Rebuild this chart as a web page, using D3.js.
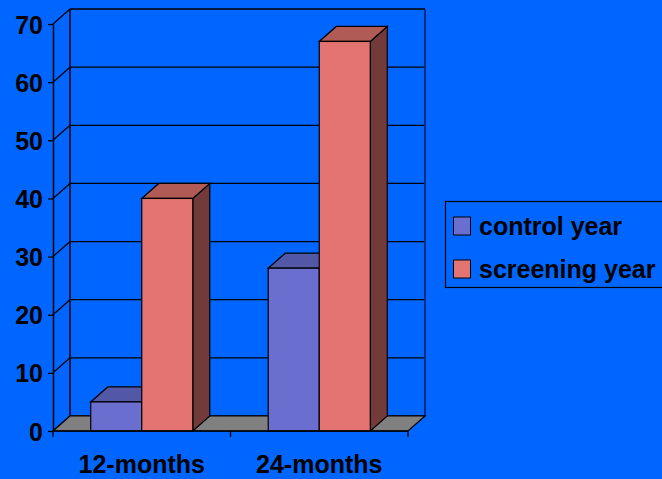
<!DOCTYPE html>
<html lang="en">
<head>
    <meta charset="UTF-8">
    <script src="https://cdn.jsdelivr.net/npm/d3@7"></script>
    <title>control vs screening year</title>
    <style>
        body {
            margin: 0;
            background-color: #0066ff;
            overflow: hidden;
        }
        text {
            font-family: "Liberation Sans", Arial, sans-serif;
            font-weight: bold;
            font-size: 25px;
            fill: #000;
        }
    </style>
</head>
<body>
    <script>
        // chart data
        const categories = ["12-months", "24-months"];
        const seriesNames = ["control year", "screening year"];
        const controlValues = [5, 28];
        const screeningValues = [40, 67];
        const yTicks = [0, 10, 20, 30, 40, 50, 60, 70];

        const W = 662, H = 479;
        // 3d depth offset of the back wall
        const dx = 17, dy = 15;

        const front = {left: 53, right: 408, top: 24, bottom: 431};

        const colors = {
            "control year": {front: "#6a6ecf", top: "#5257a6", side: "#3c3f7a"},
            "screening year": {front: "#e37472", top: "#b05b55", side: "#733a3a"}
        };

        const svg = d3.select("body").append("svg")
            .attr("width", W)
            .attr("height", H);

        const y = d3.scaleLinear()
            .domain([0, 70])
            .range([front.bottom, front.top]);

        const x0 = d3.scaleBand()
            .domain(categories)
            .range([front.left, front.right])
            .paddingInner(0.425)
            .paddingOuter(0.2125);

        const x1 = d3.scaleBand()
            .domain(seriesNames)
            .range([0, x0.bandwidth()]);

        const step = x0.step();

        // walls: gridlines on the back and the left side
        const walls = svg.append("g");
        yTicks.forEach(t => {
            walls.append("line")
                .attr("x1", front.left + dx).attr("x2", front.right + dx)
                .attr("y1", y(t) - dy).attr("y2", y(t) - dy)
                .attr("stroke", "#000").attr("stroke-width", 1.3);
            walls.append("line")
                .attr("x1", front.left).attr("x2", front.left + dx)
                .attr("y1", y(t)).attr("y2", y(t) - dy)
                .attr("stroke", "#000").attr("stroke-width", 1.3);
        });
        walls.append("line")
            .attr("x1", front.left + dx).attr("x2", front.left + dx)
            .attr("y1", y(70) - dy).attr("y2", y(0) - dy)
            .attr("stroke", "#000").attr("stroke-width", 1.5);
        walls.append("line")
            .attr("x1", front.right + dx).attr("x2", front.right + dx)
            .attr("y1", y(70) - dy).attr("y2", y(0) - dy)
            .attr("stroke", "#0a2a80").attr("stroke-width", 2);

        // floor
        svg.append("polygon")
            .attr("points", [
                [front.left, y(0)], [front.right, y(0)],
                [front.right + dx, y(0) - dy], [front.left + dx, y(0) - dy]
            ].map(p => p.join(",")).join(" "))
            .attr("fill", "#808080")
            .attr("stroke", "#000")
            .attr("stroke-width", 1.2);

        // bars
        const rows = [];
        categories.forEach((c, i) => {
            rows.push({cat: c, series: "control year", value: controlValues[i]});
            rows.push({cat: c, series: "screening year", value: screeningValues[i]});
        });

        const bars = svg.append("g").selectAll("g")
            .data(rows)
            .enter()
            .append("g");

        bars.each(function (d) {
            const g = d3.select(this);
            const xl = x0(d.cat) + x1(d.series);
            const xr = xl + x1.bandwidth();
            const yt = y(d.value), yb = y(0);
            const col = colors[d.series];
            const pts = a => a.map(p => p.join(",")).join(" ");

            g.append("polygon")
                .attr("points", pts([[xr, yb], [xr + dx, yb - dy], [xr + dx, yt - dy], [xr, yt]]))
                .attr("fill", col.side).attr("stroke", "#000").attr("stroke-width", 1.2);
            g.append("polygon")
                .attr("points", pts([[xl, yt], [xr, yt], [xr + dx, yt - dy], [xl + dx, yt - dy]]))
                .attr("fill", col.top).attr("stroke", "#000").attr("stroke-width", 1.2);
            g.append("rect")
                .attr("x", xl).attr("y", yt)
                .attr("width", xr - xl).attr("height", yb - yt)
                .attr("fill", col.front).attr("stroke", "#000").attr("stroke-width", 1.2);
        });

        // value axis
        const yAxis = svg.append("g")
            .attr("transform", `translate(${front.left},0)`)
            .call(d3.axisLeft(y).tickValues(yTicks).tickSize(5).tickSizeOuter(0).tickPadding(5));
        yAxis.attr("font-family", null).attr("font-size", null);
        yAxis.select(".domain").attr("stroke", "#000").attr("stroke-width", 1.5);
        yAxis.selectAll(".tick line").attr("stroke", "#000").attr("stroke-width", 1.3);
        yAxis.selectAll(".tick text").attr("dy", "0.36em");

        // category axis, ticks on the band boundaries
        const xAxis = svg.append("g");
        xAxis.append("line")
            .attr("x1", front.left).attr("x2", front.right)
            .attr("y1", y(0)).attr("y2", y(0))
            .attr("stroke", "#000").attr("stroke-width", 1.5);
        xAxis.selectAll(".cat-tick")
            .data(d3.range(categories.length + 1))
            .enter()
            .append("line")
            .attr("x1", i => front.left + i * step)
            .attr("x2", i => front.left + i * step)
            .attr("y1", y(0)).attr("y2", y(0) + 6)
            .attr("stroke", "#000").attr("stroke-width", 1.3);
        xAxis.selectAll(".cat-label")
            .data(categories)
            .enter()
            .append("text")
            .attr("x", c => x0(c) + x0.bandwidth() / 2)
            .attr("y", 473)
            .attr("text-anchor", "middle")
            .text(c => c);

        // legend
        const legend = svg.append("g");
        legend.append("rect")
            .attr("x", 445.5).attr("y", 201.5)
            .attr("width", 240).attr("height", 86)
            .attr("fill", "none").attr("stroke", "#000").attr("stroke-width", 1.2);
        const items = legend.selectAll(".item")
            .data(seriesNames)
            .enter()
            .append("g")
            .attr("transform", (d, i) => `translate(0,${i * 43})`);
        items.append("rect")
            .attr("x", 453.5).attr("y", 217)
            .attr("width", 17).attr("height", 18)
            .attr("fill", d => colors[d].front)
            .attr("stroke", "#000").attr("stroke-width", 1);
        items.append("text")
            .attr("x", 479).attr("y", 235)
            .text(d => d);
    </script>
</body>
</html>
